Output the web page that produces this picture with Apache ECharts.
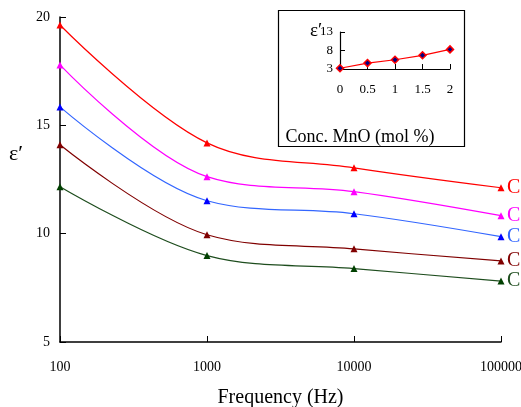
<!DOCTYPE html>
<html>
<head>
<meta charset="utf-8">
<script src="https://cdn.jsdelivr.net/npm/echarts@6/dist/echarts.min.js"></script>
<style>
  html, body { margin: 0; padding: 0; background: #fff; }
  #chart { width: 521px; height: 407px; }
</style>
</head>
<body>
<div id="chart"></div>
<script>
// 主图数据：频率 vs 介电常数
var freqs = [100, 1000, 10000, 100000];
var seriesNames = ['C', 'C', 'C', 'C', 'C'];
var seriesColors = ['#ff0000', '#ff00ff', '#3366ff', '#800000', '#1e4d1e'];
var markerColors = ['#ff0000', '#ff00ff', '#0000ff', '#800000', '#004000'];
var epsRed = [19.63, 14.19, 13.04, 12.12];
var epsMagenta = [17.79, 12.63, 11.94, 10.83];
var epsBlue = [15.85, 11.52, 10.92, 9.86];
var epsDarkRed = [14.1, 9.95, 9.3, 8.74];
var epsGreen = [12.17, 8.99, 8.39, 7.81];
var mainTicks = [5, 10, 15, 20];

// 插图数据：MnO 浓度 vs ε'
var concMnO = [0, 0.5, 1, 1.5, 2];
var epsConc = [3.2, 4.6, 5.5, 6.7, 8.3];
var insetTicks = [3, 8, 13];

var FONT = 'Liberation Serif';

var allEps = [epsRed, epsMagenta, epsBlue, epsDarkRed, epsGreen];
var series = allEps.map(function (vals, i) {
  return {
    name: seriesNames[i] + i,
    type: 'line',
    xAxisIndex: 0, yAxisIndex: 0,
    smooth: 0.35,
    data: freqs.map(function (f, j) { return [f, vals[j]]; }),
    symbol: 'triangle',
    symbolSize: 7,
    lineStyle: { color: seriesColors[i], width: 1.2 },
    itemStyle: { color: markerColors[i] },
    label: { show: false },
    endLabel: {
      show: true,
      formatter: seriesNames[i],
      color: seriesColors[i],
      fontFamily: FONT,
      fontSize: 20,
      distance: 6
    },
    z: 3
  };
});

series.push({
  type: 'line',
  xAxisIndex: 1, yAxisIndex: 1,
  data: concMnO.map(function (c, j) { return [c, epsConc[j]]; }),
  symbol: 'diamond',
  symbolSize: 7,
  lineStyle: { color: '#ff0000', width: 1.2 },
  itemStyle: { color: '#000080', borderColor: '#ff0000', borderWidth: 1.5 },
  z: 10
});

var option = {
  backgroundColor: '#fff',
  animation: false,
  textStyle: { fontFamily: FONT },
  grid: [
    { left: 60, top: 17, width: 441, height: 325, outerBoundsMode: 'none' },
    { left: 340, top: 32, width: 110, height: 37, outerBoundsMode: 'none' }
  ],
  xAxis: [{
    gridIndex: 0,
    type: 'log',
    logBase: 10,
    min: 100,
    max: 100000,
    axisLine: { lineStyle: { color: '#000', width: 1.5 } },
    axisTick: { inside: true, length: 6, lineStyle: { color: '#000' } },
    splitLine: { show: false },
    axisLabel: { color: '#000', fontFamily: FONT, fontSize: 14, margin: 18, formatter: function (v) { return String(v); } },
    name: 'Frequency (Hz)',
    nameLocation: 'middle',
    nameGap: 46,
    nameTextStyle: { color: '#000', fontFamily: FONT, fontSize: 20 }
  }, {
    gridIndex: 1,
    type: 'value',
    min: 0, max: 2, interval: 0.5,
    z: 10,
    axisLine: { onZero: false, lineStyle: { color: '#000', width: 1.2 } },
    axisTick: { inside: true, length: 5, lineStyle: { color: '#000' } },
    splitLine: { show: false },
    axisLabel: { color: '#000', fontFamily: FONT, fontSize: 13, margin: 14 },
    name: 'Conc. MnO (mol %)',
    nameLocation: 'middle',
    nameGap: 59,
    nameTextStyle: { color: '#000', fontFamily: FONT, fontSize: 18, padding: [0, 0, 0, -70] }
  }],
  yAxis: [{
    gridIndex: 0,
    type: 'value',
    min: mainTicks[0],
    max: mainTicks[mainTicks.length - 1],
    interval: 5,
    axisLine: { show: true, lineStyle: { color: '#000', width: 1.5 } },
    axisTick: { show: true, inside: true, length: 6, lineStyle: { color: '#000' } },
    splitLine: { show: false },
    axisLabel: { color: '#000', fontFamily: FONT, fontSize: 14, margin: 10 }
  }, {
    gridIndex: 1,
    type: 'value',
    min: insetTicks[0],
    max: insetTicks[insetTicks.length - 1],
    interval: 5,
    z: 10,
    axisLine: { show: true, lineStyle: { color: '#000', width: 1.2 } },
    axisTick: { show: true, inside: true, length: 5, lineStyle: { color: '#000' } },
    splitLine: { show: false },
    axisLabel: { color: '#000', fontFamily: FONT, fontSize: 13, margin: 7 }
  }],
  graphic: [{
    type: 'rect',
    shape: { x: 278.5, y: 10.5, width: 186, height: 136 },
    style: { fill: '#fff', stroke: '#000', lineWidth: 1.2 },
    z: 5
  }, {
    type: 'text',
    x: 310, y: 22,
    style: { text: 'ε′', fill: '#000', font: '19px "Liberation Serif"' },
    z: 11
  }, {
    // 主图纵轴标题
    type: 'text',
    x: 9, y: 143,
    style: { text: 'ε′', fill: '#000', font: '22px "Liberation Serif"' }
  }],
  series: series
};

var chart = echarts.init(document.getElementById('chart'));
chart.setOption(option);
</script>
</body>
</html>
